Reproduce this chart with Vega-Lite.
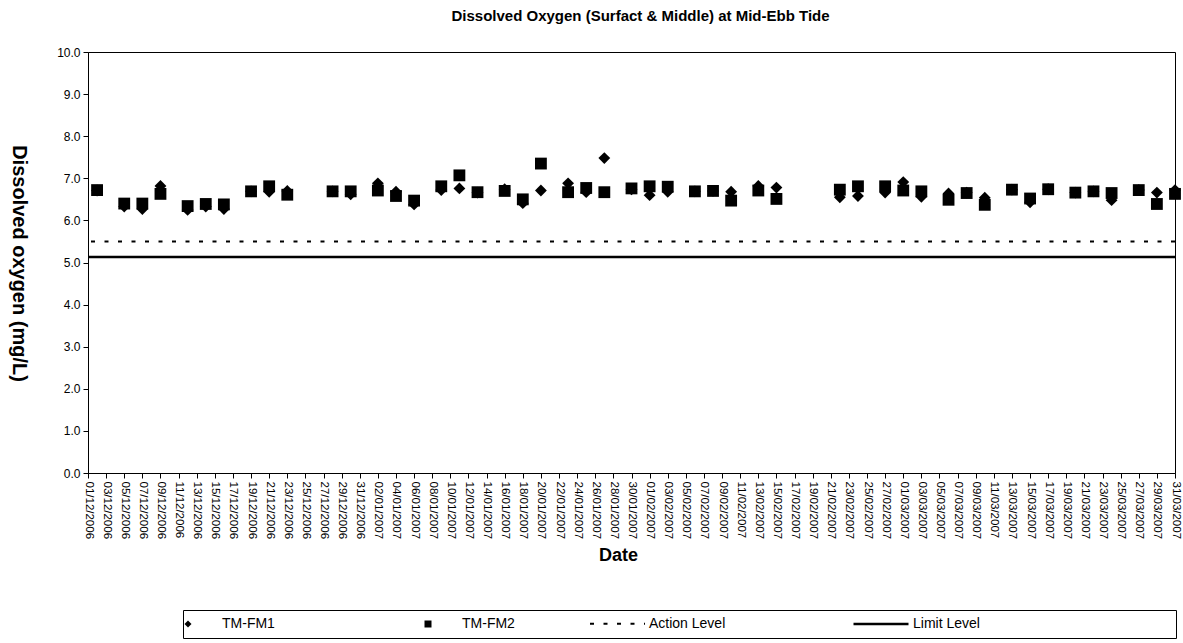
{
  "$schema": "https://vega.github.io/schema/vega-lite/v6.json",
  "width": 1087,
  "height": 421,
  "autosize": "none",
  "padding": {"left": 88, "top": 52, "right": 8, "bottom": 170},
  "background": "white",
  "title": {"text": "Dissolved Oxygen (Surfact & Middle) at Mid-Ebb Tide", "fontSize": 15, "font": "Liberation Sans", "fontWeight": "bold", "color": "black", "offset": 22, "anchor": "middle", "dx": 9},
  "config": {
    "view": {"stroke": "black", "strokeWidth": 1},
    "font": "Liberation Sans",
    "axis": {"domainColor": "black", "tickColor": "black", "labelColor": "black", "titleColor": "black", "grid": false, "labelFont": "Liberation Sans", "titleFont": "Liberation Sans"},
    "legend": {"labelFont": "Liberation Sans", "labelColor": "black"}
  },
  "encoding": {
    "y": {
      "field": "value",
      "type": "quantitative",
      "scale": {"domain": [0, 10], "nice": false},
      "axis": {
        "title": "Dissolved oxygen (mg/L)",
        "titleAngle": 90,
        "titleFontSize": 20,
        "titleFontWeight": "bold",
        "titleX": -70,
        "titleY": 211,
        "titleAlign": "center",
        "titleBaseline": "middle",
        "values": [0, 1, 2, 3, 4, 5, 6, 7, 8, 9, 10],
        "format": ".1f",
        "labelFontSize": 12,
        "tickSize": 5,
        "labelPadding": 3
      }
    }
  },
  "layer": [
    {
      "data": {"values": [
        {"date": "2006-12-02", "series": "TM-FM1", "value": 6.71},
        {"date": "2006-12-05", "series": "TM-FM1", "value": 6.33},
        {"date": "2006-12-07", "series": "TM-FM1", "value": 6.27},
        {"date": "2006-12-09", "series": "TM-FM1", "value": 6.82},
        {"date": "2006-12-12", "series": "TM-FM1", "value": 6.25},
        {"date": "2006-12-14", "series": "TM-FM1", "value": 6.33},
        {"date": "2006-12-16", "series": "TM-FM1", "value": 6.27},
        {"date": "2006-12-19", "series": "TM-FM1", "value": 6.69},
        {"date": "2006-12-21", "series": "TM-FM1", "value": 6.68},
        {"date": "2006-12-23", "series": "TM-FM1", "value": 6.70},
        {"date": "2006-12-28", "series": "TM-FM1", "value": 6.69},
        {"date": "2006-12-30", "series": "TM-FM1", "value": 6.62},
        {"date": "2007-01-02", "series": "TM-FM1", "value": 6.88},
        {"date": "2007-01-04", "series": "TM-FM1", "value": 6.68},
        {"date": "2007-01-06", "series": "TM-FM1", "value": 6.38},
        {"date": "2007-01-09", "series": "TM-FM1", "value": 6.72},
        {"date": "2007-01-11", "series": "TM-FM1", "value": 6.76},
        {"date": "2007-01-13", "series": "TM-FM1", "value": 6.66},
        {"date": "2007-01-16", "series": "TM-FM1", "value": 6.74},
        {"date": "2007-01-18", "series": "TM-FM1", "value": 6.41},
        {"date": "2007-01-20", "series": "TM-FM1", "value": 6.71},
        {"date": "2007-01-23", "series": "TM-FM1", "value": 6.88},
        {"date": "2007-01-25", "series": "TM-FM1", "value": 6.67},
        {"date": "2007-01-27", "series": "TM-FM1", "value": 7.48},
        {"date": "2007-01-30", "series": "TM-FM1", "value": 6.74},
        {"date": "2007-02-01", "series": "TM-FM1", "value": 6.60},
        {"date": "2007-02-03", "series": "TM-FM1", "value": 6.68},
        {"date": "2007-02-06", "series": "TM-FM1", "value": 6.69},
        {"date": "2007-02-08", "series": "TM-FM1", "value": 6.70},
        {"date": "2007-02-10", "series": "TM-FM1", "value": 6.68},
        {"date": "2007-02-13", "series": "TM-FM1", "value": 6.82},
        {"date": "2007-02-15", "series": "TM-FM1", "value": 6.78},
        {"date": "2007-02-22", "series": "TM-FM1", "value": 6.55},
        {"date": "2007-02-24", "series": "TM-FM1", "value": 6.58},
        {"date": "2007-02-27", "series": "TM-FM1", "value": 6.66},
        {"date": "2007-03-01", "series": "TM-FM1", "value": 6.91},
        {"date": "2007-03-03", "series": "TM-FM1", "value": 6.56},
        {"date": "2007-03-06", "series": "TM-FM1", "value": 6.64},
        {"date": "2007-03-08", "series": "TM-FM1", "value": 6.66},
        {"date": "2007-03-10", "series": "TM-FM1", "value": 6.54},
        {"date": "2007-03-13", "series": "TM-FM1", "value": 6.73},
        {"date": "2007-03-15", "series": "TM-FM1", "value": 6.43},
        {"date": "2007-03-17", "series": "TM-FM1", "value": 6.74},
        {"date": "2007-03-20", "series": "TM-FM1", "value": 6.66},
        {"date": "2007-03-22", "series": "TM-FM1", "value": 6.69},
        {"date": "2007-03-24", "series": "TM-FM1", "value": 6.48},
        {"date": "2007-03-27", "series": "TM-FM1", "value": 6.72},
        {"date": "2007-03-29", "series": "TM-FM1", "value": 6.66},
        {"date": "2007-03-31", "series": "TM-FM1", "value": 6.72},
        {"date": "2006-12-02", "series": "TM-FM2", "value": 6.72},
        {"date": "2006-12-05", "series": "TM-FM2", "value": 6.40},
        {"date": "2006-12-07", "series": "TM-FM2", "value": 6.40},
        {"date": "2006-12-09", "series": "TM-FM2", "value": 6.63},
        {"date": "2006-12-12", "series": "TM-FM2", "value": 6.34},
        {"date": "2006-12-14", "series": "TM-FM2", "value": 6.39},
        {"date": "2006-12-16", "series": "TM-FM2", "value": 6.38},
        {"date": "2006-12-19", "series": "TM-FM2", "value": 6.69},
        {"date": "2006-12-21", "series": "TM-FM2", "value": 6.81},
        {"date": "2006-12-23", "series": "TM-FM2", "value": 6.61},
        {"date": "2006-12-28", "series": "TM-FM2", "value": 6.69},
        {"date": "2006-12-30", "series": "TM-FM2", "value": 6.69},
        {"date": "2007-01-02", "series": "TM-FM2", "value": 6.71},
        {"date": "2007-01-04", "series": "TM-FM2", "value": 6.58},
        {"date": "2007-01-06", "series": "TM-FM2", "value": 6.47},
        {"date": "2007-01-09", "series": "TM-FM2", "value": 6.81},
        {"date": "2007-01-11", "series": "TM-FM2", "value": 7.07},
        {"date": "2007-01-13", "series": "TM-FM2", "value": 6.67},
        {"date": "2007-01-16", "series": "TM-FM2", "value": 6.70},
        {"date": "2007-01-18", "series": "TM-FM2", "value": 6.50},
        {"date": "2007-01-20", "series": "TM-FM2", "value": 7.35},
        {"date": "2007-01-23", "series": "TM-FM2", "value": 6.67},
        {"date": "2007-01-25", "series": "TM-FM2", "value": 6.77},
        {"date": "2007-01-27", "series": "TM-FM2", "value": 6.67},
        {"date": "2007-01-30", "series": "TM-FM2", "value": 6.76},
        {"date": "2007-02-01", "series": "TM-FM2", "value": 6.81},
        {"date": "2007-02-03", "series": "TM-FM2", "value": 6.80},
        {"date": "2007-02-06", "series": "TM-FM2", "value": 6.69},
        {"date": "2007-02-08", "series": "TM-FM2", "value": 6.70},
        {"date": "2007-02-10", "series": "TM-FM2", "value": 6.47},
        {"date": "2007-02-13", "series": "TM-FM2", "value": 6.71},
        {"date": "2007-02-15", "series": "TM-FM2", "value": 6.51},
        {"date": "2007-02-22", "series": "TM-FM2", "value": 6.73},
        {"date": "2007-02-24", "series": "TM-FM2", "value": 6.81},
        {"date": "2007-02-27", "series": "TM-FM2", "value": 6.81},
        {"date": "2007-03-01", "series": "TM-FM2", "value": 6.71},
        {"date": "2007-03-03", "series": "TM-FM2", "value": 6.69},
        {"date": "2007-03-06", "series": "TM-FM2", "value": 6.49},
        {"date": "2007-03-08", "series": "TM-FM2", "value": 6.65},
        {"date": "2007-03-10", "series": "TM-FM2", "value": 6.37},
        {"date": "2007-03-13", "series": "TM-FM2", "value": 6.73},
        {"date": "2007-03-15", "series": "TM-FM2", "value": 6.52},
        {"date": "2007-03-17", "series": "TM-FM2", "value": 6.74},
        {"date": "2007-03-20", "series": "TM-FM2", "value": 6.66},
        {"date": "2007-03-22", "series": "TM-FM2", "value": 6.69},
        {"date": "2007-03-24", "series": "TM-FM2", "value": 6.65},
        {"date": "2007-03-27", "series": "TM-FM2", "value": 6.72},
        {"date": "2007-03-29", "series": "TM-FM2", "value": 6.39},
        {"date": "2007-03-31", "series": "TM-FM2", "value": 6.63}
      ]},
      "mark": {"type": "point", "filled": true, "color": "black", "opacity": 1, "size": 140},
      "encoding": {
        "x": {
          "field": "date",
          "type": "temporal",
          "scale": {"type": "utc", "domain": [{"year": 2006, "month": 12, "date": 1, "utc": true}, {"year": 2007, "month": 3, "date": 31, "utc": true}]},
          "axis": {
            "title": "Date",
            "titleFontSize": 18,
            "titleFontWeight": "bold",
            "titleX": 530,
            "titleY": 82,
            "titleAlign": "center",
            "titleBaseline": "middle",
            "format": "%d/%m/%Y",
            "labelAngle": 90,
            "labelFontSize": 11.5,
            "labelPadding": 3,
            "tickSize": 5,
            "labelOverlap": false,
            "labelBound": false,
            "labelFlush": false,
            "values": [
              {"year": 2006, "month": 12, "date": 1, "utc": true},
              {"year": 2006, "month": 12, "date": 3, "utc": true},
              {"year": 2006, "month": 12, "date": 5, "utc": true},
              {"year": 2006, "month": 12, "date": 7, "utc": true},
              {"year": 2006, "month": 12, "date": 9, "utc": true},
              {"year": 2006, "month": 12, "date": 11, "utc": true},
              {"year": 2006, "month": 12, "date": 13, "utc": true},
              {"year": 2006, "month": 12, "date": 15, "utc": true},
              {"year": 2006, "month": 12, "date": 17, "utc": true},
              {"year": 2006, "month": 12, "date": 19, "utc": true},
              {"year": 2006, "month": 12, "date": 21, "utc": true},
              {"year": 2006, "month": 12, "date": 23, "utc": true},
              {"year": 2006, "month": 12, "date": 25, "utc": true},
              {"year": 2006, "month": 12, "date": 27, "utc": true},
              {"year": 2006, "month": 12, "date": 29, "utc": true},
              {"year": 2006, "month": 12, "date": 31, "utc": true},
              {"year": 2007, "month": 1, "date": 2, "utc": true},
              {"year": 2007, "month": 1, "date": 4, "utc": true},
              {"year": 2007, "month": 1, "date": 6, "utc": true},
              {"year": 2007, "month": 1, "date": 8, "utc": true},
              {"year": 2007, "month": 1, "date": 10, "utc": true},
              {"year": 2007, "month": 1, "date": 12, "utc": true},
              {"year": 2007, "month": 1, "date": 14, "utc": true},
              {"year": 2007, "month": 1, "date": 16, "utc": true},
              {"year": 2007, "month": 1, "date": 18, "utc": true},
              {"year": 2007, "month": 1, "date": 20, "utc": true},
              {"year": 2007, "month": 1, "date": 22, "utc": true},
              {"year": 2007, "month": 1, "date": 24, "utc": true},
              {"year": 2007, "month": 1, "date": 26, "utc": true},
              {"year": 2007, "month": 1, "date": 28, "utc": true},
              {"year": 2007, "month": 1, "date": 30, "utc": true},
              {"year": 2007, "month": 2, "date": 1, "utc": true},
              {"year": 2007, "month": 2, "date": 3, "utc": true},
              {"year": 2007, "month": 2, "date": 5, "utc": true},
              {"year": 2007, "month": 2, "date": 7, "utc": true},
              {"year": 2007, "month": 2, "date": 9, "utc": true},
              {"year": 2007, "month": 2, "date": 11, "utc": true},
              {"year": 2007, "month": 2, "date": 13, "utc": true},
              {"year": 2007, "month": 2, "date": 15, "utc": true},
              {"year": 2007, "month": 2, "date": 17, "utc": true},
              {"year": 2007, "month": 2, "date": 19, "utc": true},
              {"year": 2007, "month": 2, "date": 21, "utc": true},
              {"year": 2007, "month": 2, "date": 23, "utc": true},
              {"year": 2007, "month": 2, "date": 25, "utc": true},
              {"year": 2007, "month": 2, "date": 27, "utc": true},
              {"year": 2007, "month": 3, "date": 1, "utc": true},
              {"year": 2007, "month": 3, "date": 3, "utc": true},
              {"year": 2007, "month": 3, "date": 5, "utc": true},
              {"year": 2007, "month": 3, "date": 7, "utc": true},
              {"year": 2007, "month": 3, "date": 9, "utc": true},
              {"year": 2007, "month": 3, "date": 11, "utc": true},
              {"year": 2007, "month": 3, "date": 13, "utc": true},
              {"year": 2007, "month": 3, "date": 15, "utc": true},
              {"year": 2007, "month": 3, "date": 17, "utc": true},
              {"year": 2007, "month": 3, "date": 19, "utc": true},
              {"year": 2007, "month": 3, "date": 21, "utc": true},
              {"year": 2007, "month": 3, "date": 23, "utc": true},
              {"year": 2007, "month": 3, "date": 25, "utc": true},
              {"year": 2007, "month": 3, "date": 27, "utc": true},
              {"year": 2007, "month": 3, "date": 29, "utc": true},
              {"year": 2007, "month": 3, "date": 31, "utc": true}
            ]
          }
        },
        "shape": {
          "field": "series",
          "type": "nominal",
          "scale": {"domain": ["TM-FM1", "TM-FM2"], "range": ["diamond", "square"]},
          "legend": {
            "title": null,
            "orient": "none",
            "legendX": 95,
            "legendY": 558,
            "direction": "horizontal",
            "symbolSize": 49,
            "symbolOffset": -9,
            "labelFontSize": 14,
            "labelOffset": 27,
            "labelLimit": 900,
            "labelExpr": "datum.label === 'TM-FM2' ? pad(datum.label, 174, '\u00a0') + '\u200b' : datum.label",
            "columnPadding": 146,
            "padding": 7,
            "strokeColor": "black"
          }
        }
      }
    },
    {
      "data": {"values": [
        {"level": "Action Level", "value": 5.5},
        {"level": "Limit Level", "value": 5.13}
      ]},
      "mark": {"type": "rule", "color": "black"},
      "encoding": {
        "strokeDash": {
          "field": "level",
          "type": "nominal",
          "scale": {"domain": ["Action Level", "Limit Level"], "range": [[4, 9.5], [1, 0]]},
          "legend": {
            "title": null,
            "orient": "none",
            "legendX": 501,
            "legendY": 543,
            "direction": "horizontal",
            "symbolType": "stroke",
            "symbolSize": 3025,
            "symbolStrokeWidth": 2,
            "symbolStrokeColor": "black",
            "labelFontSize": 14,
            "labelOffset": 3,
            "columnPadding": 122,
            "padding": 0
          }
        },
        "strokeWidth": {"field": "level", "type": "nominal", "scale": {"domain": ["Action Level", "Limit Level"], "range": [2, 2.5]}, "legend": null}
      }
    }
  ]
}
